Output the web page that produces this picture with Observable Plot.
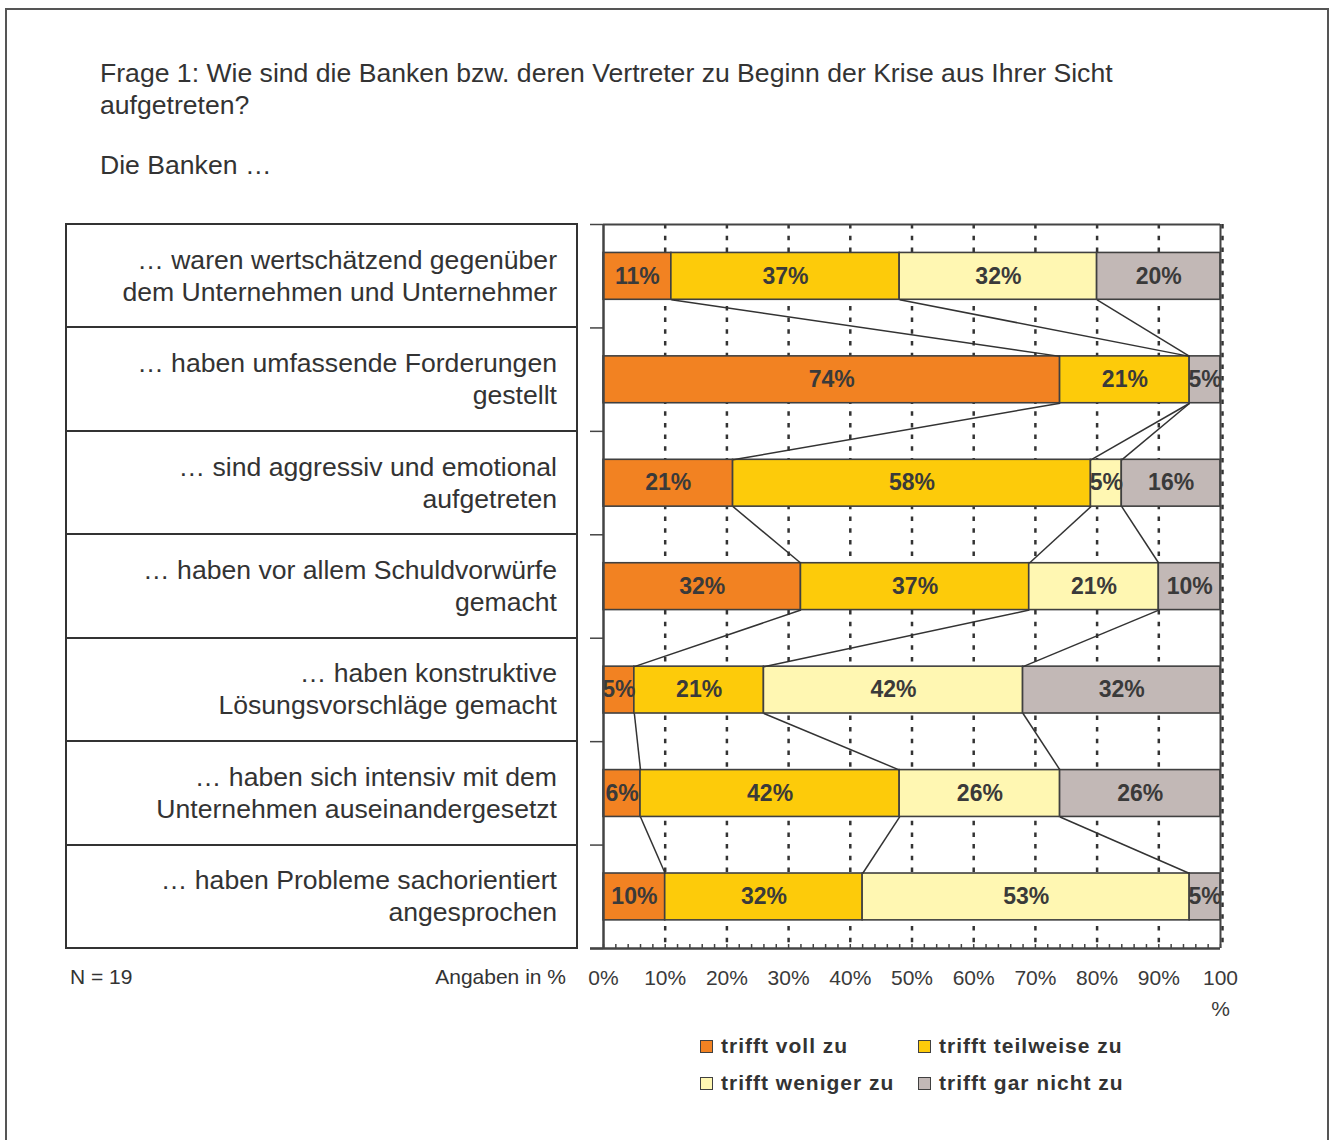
<!DOCTYPE html>
<html><head><meta charset="utf-8">
<script src="https://cdn.jsdelivr.net/npm/d3@7"></script>
<script src="https://cdn.jsdelivr.net/npm/@observablehq/plot@0.6"></script>
<style>
html,body{margin:0;padding:0;background:#fff;}
#page{position:relative;width:1338px;height:1140px;overflow:hidden;font-family:"Liberation Sans",Arial,Helvetica,sans-serif;color:#333;background:#fff;}
#frame{position:absolute;left:5px;top:8px;width:1324px;height:1200px;border:2px solid #555;box-sizing:border-box;}
#chart{position:absolute;left:0;top:0;}
.title{position:absolute;left:100px;font-size:26.6px;line-height:31.5px;color:#333;white-space:nowrap;}
.row{position:absolute;box-sizing:border-box;border:2px solid #333;display:flex;flex-direction:column;justify-content:center;align-items:flex-end;padding-right:19px;font-size:26.6px;line-height:32px;color:#333;text-align:right;white-space:nowrap;}
.note{position:absolute;font-size:21px;line-height:24px;color:#333;white-space:nowrap;}
.leg{position:absolute;font-size:21px;font-weight:bold;letter-spacing:1px;color:#333;line-height:24px;white-space:nowrap;}
.sw{position:absolute;width:13px;height:13px;box-sizing:border-box;border:1.5px solid #404040;}
</style></head><body>
<div id="page">
  <div id="frame"></div>
  <div id="chart"></div>
</div>
<script>
// ---- data ----
const titleLines = ["Frage 1: Wie sind die Banken bzw. deren Vertreter zu Beginn der Krise aus Ihrer Sicht", "aufgetreten?"];
const subtitle = "Die Banken …";
const statements = [
  "… waren wertschätzend gegenüber\ndem Unternehmen und Unternehmer",
  "… haben umfassende Forderungen\ngestellt",
  "… sind aggressiv und emotional\naufgetreten",
  "… haben vor allem Schuldvorwürfe\ngemacht",
  "… haben konstruktive\nLösungsvorschläge gemacht",
  "… haben sich intensiv mit dem\nUnternehmen auseinandergesetzt",
  "… haben Probleme sachorientiert\nangesprochen"
];
const series = ["trifft voll zu", "trifft teilweise zu", "trifft weniger zu", "trifft gar nicht zu"];
const colors = ["#F28222", "#FDCB0A", "#FFF7B2", "#C2B8B6"];
const vollZu      = [11, 74, 21, 32,  5,  6, 10];
const teilweiseZu = [37, 21, 58, 37, 21, 42, 32];
const wenigerZu   = [32,  0,  5, 21, 42, 26, 53];
const garNichtZu  = [20,  5, 16, 10, 32, 26,  5];
const xTicks = [0, 10, 20, 30, 40, 50, 60, 70, 80, 90, 100];
const minorTicks = d3.range(0, 101, 2);
const noteN = "N = 19";
const noteUnit = "Angaben in %";

// ---- layout constants ----
const BAR_TOP = 0.275, BAR_BOTTOM = 0.728;
const ink = "#3a3a3a";

// ---- build tables ----
const valuesBySeries = [vollZu, teilweiseZu, wenigerZu, garNichtZu];
const segments = [];
const cums = [];
statements.forEach((st, r) => {
  let c = 0; const rowCum = [];
  series.forEach((s, k) => {
    const v = valuesBySeries[k][r];
    segments.push({row: r, series: s, value: v, x1: c, x2: c + v, y1: r + BAR_TOP, y2: r + BAR_BOTTOM});
    c += v; rowCum.push(c);
  });
  cums.push(rowCum);
});
const links = [];
for (let r = 0; r < statements.length - 1; r++) {
  for (let k = 0; k < series.length - 1; k++) {
    links.push({x1: cums[r][k], y1: r + BAR_BOTTOM, x2: cums[r + 1][k], y2: r + 1 + BAR_TOP});
  }
}

const nRows = statements.length;
const chart = Plot.plot({
  width: 1338, height: 1140,
  marginLeft: 603, marginRight: 118, marginTop: 224, marginBottom: 192,
  x: {domain: [0, 100]},
  y: {domain: [0, nRows], reverse: true},
  color: {domain: series, range: colors},
  style: {background: "transparent", fontFamily: "'Liberation Sans', Arial, sans-serif", color: ink, overflow: "visible"},
  marks: [
    Plot.ruleX(xTicks.slice(1, -1), {y1: 0, y2: nRows, stroke: "#333", strokeWidth: 2.5, strokeDasharray: "4.5,7.2"}),
    Plot.ruleX([100], {y1: 0, y2: nRows, dx: 2, stroke: "#333", strokeWidth: 2.5, strokeDasharray: "4.5,7.2"}),
    Plot.rectX(segments.filter(d => d.value > 0), {x1: "x1", x2: "x2", y1: "y1", y2: "y2", fill: "series", stroke: "#404040", strokeWidth: 1.6}),
    Plot.link(links, {x1: "x1", y1: "y1", x2: "x2", y2: "y2", stroke: "#333", strokeWidth: 1.5}),
    Plot.text(segments.filter(d => d.value > 0), {
      x: d => (d.x1 + d.x2) / 2, y: d => d.row + 0.5, text: d => d.value + "%",
      fontSize: 23, fontWeight: "bold", fill: ink, ariaLabel: "segment-label",
      fontFamily: "'Liberation Sans', Arial, sans-serif"
    }),
    Plot.ruleY([0], {x1: 0, x2: 100, stroke: "#444", strokeWidth: 2}),
    Plot.ruleY([nRows], {x1: 0, x2: 100, stroke: "#444", strokeWidth: 2.5, insetLeft: -13}),
    Plot.ruleX([0], {y1: 0, y2: nRows, stroke: "#444", strokeWidth: 2.5}),
    Plot.ruleX([100], {y1: 0, y2: nRows, stroke: "#444", strokeWidth: 2}),
    Plot.axisY({ticks: d3.range(0, nRows + 1), tickSize: 13, tickFormat: () => "", stroke: "#444", strokeWidth: 1.5}),
    Plot.ruleX(minorTicks, {y1: nRows, y2: nRows, insetTop: -4, stroke: "#444", strokeWidth: 1.5}),
    Plot.axisX({ticks: xTicks, tickSize: 0, tickPadding: 14, fontSize: 21, lineHeight: 1.5, fill: ink,
      tickFormat: d => d === 100 ? "100\n%" : d + "%"})
  ]
});
document.getElementById("chart").appendChild(chart);

// condense the bar labels (narrow bold face)
chart.querySelectorAll('g[aria-label="segment-label"] text').forEach(t => {
  const len = t.getComputedTextLength();
  if (len > 0) {
    t.setAttribute("textLength", (len * 0.76).toFixed(2));
    t.setAttribute("lengthAdjust", "spacingAndGlyphs");
  }
});

// ---- HTML text around the chart ----
const page = document.getElementById("page");
function add(cls, css, html) {
  const el = document.createElement("div");
  el.className = cls; Object.assign(el.style, css); el.innerHTML = html; page.appendChild(el); return el;
}
add("title", {top: "58px"}, titleLines.join("<br>"));
add("title", {top: "150px"}, subtitle);

const yScale = chart.scale("y");
statements.forEach((st, r) => {
  const top = yScale.apply(r), bottom = yScale.apply(r + 1);
  add("row", {left: "65px", width: "513px", top: (top - 1) + "px", height: (bottom - top + 2) + "px"}, st.replace("\n", "<br>"));
});
const axisY = yScale.apply(nRows);
add("note", {left: "70px", top: (axisY + 17) + "px"}, noteN);
add("note", {right: (1338 - 566) + "px", top: (axisY + 17) + "px"}, noteUnit);

// legend (2 x 2)
const legCols = [700, 918], legRows = [1040, 1077];
series.forEach((s, k) => {
  const col = k % 2, row = Math.floor(k / 2);
  add("sw", {left: legCols[col] + "px", top: legRows[row] + "px", background: colors[k]}, "");
  add("leg", {left: (legCols[col] + 21) + "px", top: (legRows[row] - 6) + "px"}, s);
});
</script>
</body></html>
